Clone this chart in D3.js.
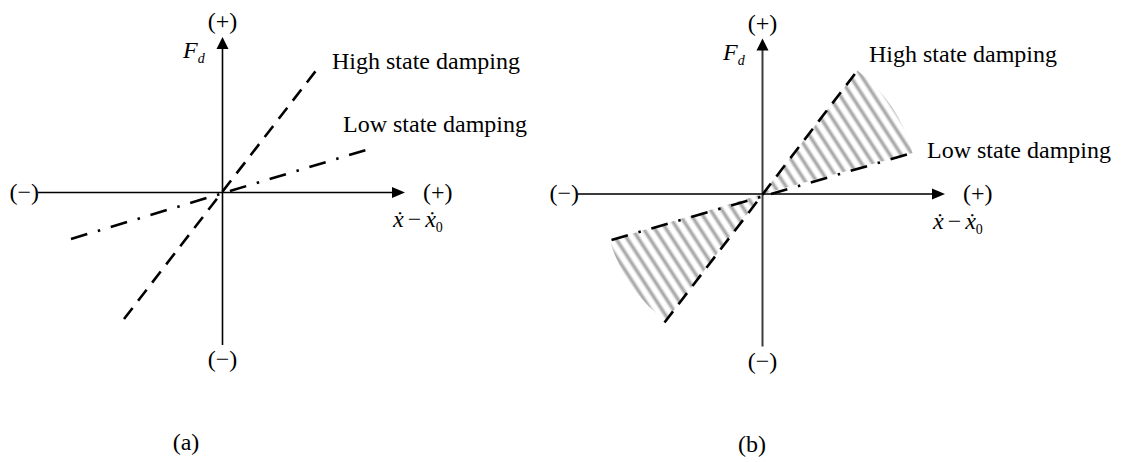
<!DOCTYPE html>
<html>
<head>
<meta charset="utf-8">
<script src="https://cdn.jsdelivr.net/npm/d3@7"></script>
<style>
  html, body { margin: 0; padding: 0; background: #fff; }
  svg { display: block; }
  text { font-family: "Liberation Serif", "Times New Roman", serif; fill: #000; }
</style>
</head>
<body>
<svg id="chart" width="1122" height="462"></svg>
<script>
// Damping force Fd versus relative velocity (x' - x'0), two damper states.
// Line end points in axis units for each panel.
const highA = [{x: -0.985, y: -1.265}, {x: 0.955, y: 1.245}];
const lowA  = [{x: -1.515, y: -0.465}, {x: 1.50,  y: 0.445}];
const highB = [{x: -0.98,  y: -1.285}, {x: 0.95,  y: 1.235}];
const lowB  = [{x: -1.51,  y: -0.46},  {x: 1.50,  y: 0.41}];

// Axis extents (axis units) and their text
const xExtent = [-1.845, 1.825];
const yExtent = [-1.525, 1.555];
const axisSigns = {pos: "(+)", neg: "(\u2212)"};
const seriesNames = ["High state damping", "Low state damping"];
const panelTags = ["(a)", "(b)"];

const svg = d3.select("#chart");

const x = d3.scaleLinear().domain(xExtent).range([38, 405]);
const y = d3.scaleLinear().domain(yExtent).range([345, 37]);
const line = d3.line().x(d => x(d.x)).y(d => y(d.y));

// soft grey hatching for the band between the two states
const defs = svg.append("defs");
const grad = defs.append("linearGradient").attr("id", "stripeGrad")
  .attr("x1", 0).attr("x2", 1).attr("y1", 0).attr("y2", 0);
[[0, "#ffffff"], [0.18, "#ffffff"], [0.5, "#9a9a9a"], [0.82, "#ffffff"], [1, "#ffffff"]]
  .forEach(([o, c]) => grad.append("stop").attr("offset", o).attr("stop-color", c));
const pat = defs.append("pattern").attr("id", "hatch")
  .attr("patternUnits", "userSpaceOnUse")
  .attr("width", 9.5).attr("height", 20)
  .attr("patternTransform", "rotate(-33)");
pat.append("rect").attr("width", 9.5).attr("height", 20).attr("fill", "url(#stripeGrad)");

function drawPanel(g, high, low, opts) {
  const ox = x(0), oy = y(0);

  if (opts.hatch) {
    const ang = p => Math.atan2(x(p.x) - ox, oy - y(p.y));
    const rad = p => Math.hypot(x(p.x) - ox, y(p.y) - oy);
    const arc = d3.arc().innerRadius(0);
    // wedges between the two characteristics, swept clockwise from the steeper line
    [[high[1], low[1]], [high[0], low[0]]].forEach(([a, b]) => {
      let a0 = ang(a), a1 = ang(b);
      if (a1 < a0) a1 += 2 * Math.PI;
      g.append("path")
        .attr("transform", `translate(${ox},${oy})`)
        .attr("d", arc({outerRadius: (rad(a) + rad(b)) / 2, startAngle: a0, endAngle: a1}))
        .attr("fill", "url(#hatch)");
    });
  }

  // axes
  const axisColor = opts.axisColor;
  g.append("line")
    .attr("x1", x(xExtent[0])).attr("x2", x(xExtent[1]) - 12)
    .attr("y1", oy).attr("y2", oy)
    .attr("stroke", axisColor).attr("stroke-width", opts.axisWidth);
  g.append("line")
    .attr("x1", ox).attr("x2", ox)
    .attr("y1", y(yExtent[0])).attr("y2", y(yExtent[1]) + 10)
    .attr("stroke", axisColor).attr("stroke-width", opts.axisWidth);
  // arrow heads
  const xt = x(xExtent[1]), yt = y(yExtent[1]);
  g.append("path").attr("d", `M${xt},${oy} L${xt - 13},${oy - 5.5} L${xt - 13},${oy + 5.5} Z`).attr("fill", "#000");
  g.append("path").attr("d", `M${ox},${yt} L${ox - 6},${yt + 12} L${ox + 6},${yt + 12} Z`).attr("fill", "#000");

  // damping characteristics
  g.append("path").attr("d", line(high))
    .attr("fill", "none").attr("stroke", "#000").attr("stroke-width", 2.6)
    .attr("stroke-dasharray", "14,9");
  g.append("path").attr("d", line(low))
    .attr("fill", "none").attr("stroke", "#000").attr("stroke-width", 2.6)
    .attr("stroke-dasharray", "17,11,2.5,11");

  // axis sign labels
  g.append("text").attr("x", ox).attr("y", 29).attr("text-anchor", "middle")
    .attr("font-size", 24).text(axisSigns.pos);
  g.append("text").attr("x", ox).attr("y", 367).attr("text-anchor", "middle")
    .attr("font-size", 24).text(axisSigns.neg);
  g.append("text").attr("x", x(xExtent[0]) + 1).attr("y", oy + 7).attr("text-anchor", "end")
    .attr("font-size", 24).text(axisSigns.neg);
  g.append("text").attr("x", 423).attr("y", oy + 7)
    .attr("font-size", 24).text(axisSigns.pos);

  // Fd
  const fd = g.append("text").attr("x", 183).attr("y", 58).attr("font-size", 24).attr("font-style", "italic");
  fd.append("tspan").text("F");
  fd.append("tspan").attr("font-size", 14).attr("dy", 5).text("d");

  // x' - x'0
  const xv = g.append("text").attr("x", 393).attr("y", 227).attr("font-size", 24);
  xv.append("tspan").attr("font-style", "italic").text("\u1E8B");
  xv.append("tspan").attr("dx", 4).text("\u2212");
  xv.append("tspan").attr("dx", 4).attr("font-style", "italic").text("\u1E8B");
  xv.append("tspan").attr("font-size", 14).attr("dy", 5).text("0");

  // series labels
  g.append("text").attr("x", opts.highLabel[0]).attr("y", opts.highLabel[1])
    .attr("font-size", 24).text(seriesNames[0]);
  g.append("text").attr("x", opts.lowLabel[0]).attr("y", opts.lowLabel[1])
    .attr("font-size", 24).text(seriesNames[1]);

  // panel tag
  g.append("text").attr("x", opts.tagX).attr("y", 450).attr("text-anchor", "middle")
    .attr("font-size", 24).text(opts.tag);
}

drawPanel(svg.append("g"), highA, lowA, {
  hatch: false, axisColor: "#000", axisWidth: 1.6,
  highLabel: [332, 69], lowLabel: [343, 132], tagX: 186, tag: panelTags[0]
});
drawPanel(svg.append("g").attr("transform", "translate(540,1.5)"), highB, lowB, {
  hatch: true, axisColor: "#3c3c3c", axisWidth: 2,
  highLabel: [329, 60.5], lowLabel: [387, 156], tagX: 212, tag: panelTags[1]
});
</script>
</body>
</html>
